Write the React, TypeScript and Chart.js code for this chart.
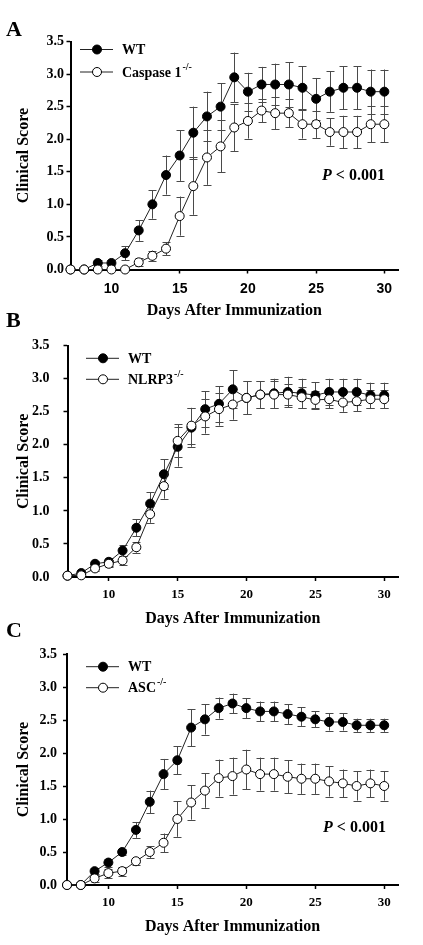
import { useEffect, useRef } from "react";
import { Chart, registerables } from "chart.js";

Chart.register(...registerables);

// ---------- data ----------
const days = [7, 8, 9, 10, 11, 12, 13, 14, 15, 16, 17, 18, 19, 20, 21, 22, 23, 24, 25, 26, 27, 28, 29, 30];
const xTickValues = [10, 15, 20, 25, 30];

const wtA = [0, 0, 0.1, 0.1, 0.25, 0.6, 1.0, 1.45, 1.75, 2.1, 2.35, 2.5, 2.95, 2.73, 2.84, 2.84, 2.84, 2.79, 2.62, 2.73, 2.79, 2.79, 2.73, 2.73];
const wtAErr = [0, 0, 0.05, 0.05, 0.11, 0.16, 0.22, 0.3, 0.39, 0.4, 0.38, 0.36, 0.38, 0.29, 0.27, 0.32, 0.34, 0.33, 0.32, 0.31, 0.33, 0.33, 0.34, 0.34];
const casp1 = [0, 0, 0, 0, 0, 0.11, 0.21, 0.32, 0.82, 1.28, 1.72, 1.89, 2.18, 2.28, 2.44, 2.4, 2.4, 2.23, 2.23, 2.11, 2.11, 2.11, 2.23, 2.23];
const casp1Err = [0, 0, 0, 0, 0, 0.06, 0.08, 0.1, 0.3, 0.44, 0.42, 0.4, 0.36, 0.27, 0.18, 0.25, 0.22, 0.22, 0.21, 0.21, 0.25, 0.25, 0.28, 0.28];

const wtB = [0.02, 0.06, 0.2, 0.23, 0.4, 0.745, 1.11, 1.555, 1.97, 2.26, 2.54, 2.62, 2.84, 2.71, 2.76, 2.78, 2.8, 2.78, 2.75, 2.8, 2.8, 2.8, 2.75, 2.75];
const wtBErr = [0, 0.02, 0.04, 0.06, 0.08, 0.13, 0.17, 0.23, 0.3, 0.29, 0.27, 0.27, 0.29, 0.25, 0.2, 0.22, 0.23, 0.22, 0.2, 0.2, 0.2, 0.2, 0.19, 0.19];
const nlrp3 = [0.02, 0.025, 0.13, 0.2, 0.25, 0.45, 0.95, 1.375, 2.06, 2.29, 2.43, 2.54, 2.61, 2.71, 2.76, 2.76, 2.76, 2.72, 2.68, 2.69, 2.64, 2.66, 2.69, 2.69];
const nlrp3Err = [0, 0.02, 0.04, 0.05, 0.07, 0.08, 0.13, 0.19, 0.25, 0.27, 0.26, 0.25, 0.23, 0.25, 0.2, 0.2, 0.16, 0.16, 0.14, 0.14, 0.14, 0.15, 0.14, 0.14];

const wtC = [0, 0, 0.21, 0.34, 0.5, 0.835, 1.26, 1.68, 1.89, 2.385, 2.51, 2.68, 2.75, 2.68, 2.63, 2.63, 2.59, 2.55, 2.51, 2.47, 2.47, 2.42, 2.42, 2.42];
const wtCErr = [0, 0, 0.05, 0.06, 0.04, 0.12, 0.17, 0.23, 0.21, 0.28, 0.23, 0.16, 0.15, 0.15, 0.15, 0.15, 0.15, 0.14, 0.12, 0.13, 0.13, 0.1, 0.1, 0.1];
const asc = [0, 0, 0.1, 0.18, 0.21, 0.36, 0.5, 0.64, 1.0, 1.25, 1.43, 1.62, 1.65, 1.75, 1.68, 1.68, 1.64, 1.61, 1.61, 1.57, 1.54, 1.5, 1.54, 1.5];
const ascErr = [0, 0, 0.05, 0.07, 0.07, 0.05, 0.09, 0.14, 0.27, 0.26, 0.26, 0.28, 0.28, 0.3, 0.25, 0.25, 0.25, 0.23, 0.23, 0.23, 0.21, 0.22, 0.21, 0.22];

const wtLabel = "WT";
const koLabels = ["Caspase 1", "NLRP3", "ASC"];
const koSup = "-/-";
const panelLetters = ["A", "B", "C"];
const pLabel = "P";
const pRest = " < 0.001";
const xTitle = "Days After Immunization";
const yTitle = "Clinical Score";

const SERIF = '"Liberation Serif", "Times New Roman", serif';
const SANS = '"Liberation Sans", Arial, sans-serif';

type PanelCfg = {
  letter: string;
  letterY: number;
  top: number;
  height: number;
  padTop: number;
  yAxisWidth: number;
  xAxisHeight: number;
  yTickPad: number;
  xTickPad: number;
  xTickFont: any;
  xTitlePadBottom: number;
  koLabel: string;
  wt: number[];
  wtErr: number[];
  ko: number[];
  koErr: number[];
  legend: { x0: number; x1: number; mx: number; tx: number; y1: number; y2: number };
  pText: { x: number; y: number } | null;
};

const panels: PanelCfg[] = [
  {
    letter: panelLetters[0], letterY: 30, top: 0, height: 325, padTop: 41.5, yAxisWidth: 70.5,
    xAxisHeight: 55.5, yTickPad: 2.5, xTickPad: 7, xTickFont: { family: SANS, size: 14, weight: "bold" },
    xTitlePadBottom: 4.4, koLabel: koLabels[0], wt: wtA, wtErr: wtAErr, ko: casp1, koErr: casp1Err,
    legend: { x0: 80, x1: 113, mx: 97, tx: 122, y1: 49.5, y2: 72 },
    pText: { x: 322, y: 176 },
  },
  {
    letter: panelLetters[1], letterY: 11.5, top: 310, height: 320, padTop: 35.7, yAxisWidth: 67.5,
    xAxisHeight: 53, yTickPad: 14, xTickPad: 6.2, xTickFont: { family: SERIF, size: 13, weight: "bold" },
    xTitlePadBottom: 1.4, koLabel: koLabels[1], wt: wtB, wtErr: wtBErr, ko: nlrp3, koErr: nlrp3Err,
    legend: { x0: 86, x1: 119, mx: 103, tx: 128, y1: 48.3, y2: 69.3 },
    pText: null,
  },
  {
    letter: panelLetters[2], letterY: 11.5, top: 620, height: 325, padTop: 34, yAxisWidth: 67,
    xAxisHeight: 60, yTickPad: 6, xTickPad: 5.7, xTickFont: { family: SERIF, size: 13, weight: "bold" },
    xTitlePadBottom: 8.4, koLabel: koLabels[2], wt: wtC, wtErr: wtCErr, ko: asc, koErr: ascErr,
    legend: { x0: 86, x1: 119, mx: 103, tx: 128, y1: 46.7, y2: 67.7 },
    pText: { x: 323, y: 208 },
  },
];

function Panel({ cfg }: { cfg: PanelCfg }) {
  const ref = useRef<HTMLCanvasElement | null>(null);

  useEffect(() => {
    if (!ref.current) return;
    const errs = [cfg.koErr, cfg.wtErr];

    const overlay = {
      id: "overlay",
      beforeDatasetsDraw(chart: any) {
        const ctx = chart.ctx;
        const ys = chart.scales.y;
        ctx.save();
        ctx.strokeStyle = "#4a4a4a";
        ctx.lineWidth = 1;
        [0, 1].forEach((di) => {
          const meta = chart.getDatasetMeta(di);
          const vals = chart.data.datasets[di].data;
          meta.data.forEach((pt: any, j: number) => {
            const e = errs[di][j];
            if (!e) return;
            const v = vals[j].y;
            const yt = ys.getPixelForValue(v + e);
            const yb = ys.getPixelForValue(Math.max(0, v - e));
            const x = Math.round(pt.x) + 0.5;
            ctx.beginPath();
            ctx.moveTo(x, yt);
            ctx.lineTo(x, yb);
            ctx.moveTo(x - 4, Math.round(yt) + 0.5);
            ctx.lineTo(x + 4, Math.round(yt) + 0.5);
            ctx.moveTo(x - 4, Math.round(yb) + 0.5);
            ctx.lineTo(x + 4, Math.round(yb) + 0.5);
            ctx.stroke();
          });
        });
        ctx.restore();
      },
      afterDraw(chart: any) {
        const ctx = chart.ctx;
        ctx.save();
        // panel letter
        ctx.fillStyle = "#000";
        ctx.font = `bold 22px ${SERIF}`;
        ctx.textBaseline = "middle";
        ctx.textAlign = "left";
        ctx.fillText(cfg.letter, 6, cfg.letterY);

        // legend
        const L = cfg.legend;
        const rows = [
          { y: L.y1, fill: "#000", label: wtLabel, sup: "" },
          { y: L.y2, fill: "#fff", label: cfg.koLabel, sup: koSup },
        ];
        rows.forEach((r) => {
          ctx.strokeStyle = "#222";
          ctx.lineWidth = 1;
          ctx.beginPath();
          ctx.moveTo(L.x0, r.y);
          ctx.lineTo(L.x1, r.y);
          ctx.stroke();
          ctx.beginPath();
          ctx.arc(L.mx, r.y, 4.5, 0, Math.PI * 2);
          ctx.fillStyle = r.fill;
          ctx.fill();
          ctx.strokeStyle = "#000";
          ctx.stroke();
          ctx.fillStyle = "#000";
          ctx.font = `bold 14px ${SERIF}`;
          ctx.textBaseline = "middle";
          ctx.fillText(r.label, L.tx, r.y + 1);
          if (r.sup) {
            const w = ctx.measureText(r.label).width;
            ctx.font = `bold 10px ${SERIF}`;
            ctx.fillText(r.sup, L.tx + w + 1, r.y - 5);
          }
        });

        // P value
        if (cfg.pText) {
          ctx.fillStyle = "#000";
          ctx.textBaseline = "middle";
          ctx.font = `italic bold 16px ${SERIF}`;
          ctx.fillText(pLabel, cfg.pText.x, cfg.pText.y);
          const w = ctx.measureText(pLabel).width;
          ctx.font = `bold 16px ${SERIF}`;
          ctx.fillText(pRest, cfg.pText.x + w, cfg.pText.y);
        }
        ctx.restore();
      },
    };

    const gridCommon = {
      display: true,
      drawOnChartArea: false,
      drawTicks: true,
      tickLength: 4,
      tickWidth: 1.5,
      tickColor: "#000",
    };
    const borderCommon = { display: true, color: "#000", width: 2 };

    const chart = new Chart(ref.current, {
      type: "line",
      data: {
        datasets: [
          {
            label: cfg.koLabel,
            data: days.map((d, i) => ({ x: d, y: cfg.ko[i] })),
            borderColor: "#222",
            borderWidth: 1,
            pointRadius: 4.5,
            pointBorderWidth: 1,
            pointBorderColor: "#000",
            pointBackgroundColor: "#fff",
            clip: false as any,
            order: 0,
          },
          {
            label: wtLabel,
            data: days.map((d, i) => ({ x: d, y: cfg.wt[i] })),
            borderColor: "#222",
            borderWidth: 1,
            pointRadius: 4.5,
            pointBorderWidth: 1,
            pointBorderColor: "#000",
            pointBackgroundColor: "#000",
            clip: false as any,
            order: 1,
          },
        ],
      },
      options: {
        responsive: false,
        animation: false,
        layout: { padding: { top: cfg.padTop, right: 25, bottom: 0, left: 0 } },
        plugins: {
          legend: { display: false },
          tooltip: { enabled: false },
        },
        scales: {
          x: {
            type: "linear",
            min: 7,
            max: 31,
            afterBuildTicks: (s: any) => {
              s.ticks = xTickValues.map((v) => ({ value: v }));
            },
            afterFit: (s: any) => {
              s.height = cfg.xAxisHeight;
            },
            grid: gridCommon,
            border: borderCommon,
            ticks: {
              color: "#000",
              font: cfg.xTickFont,
              padding: cfg.xTickPad,
              maxRotation: 0,
              autoSkip: false,
            },
            title: {
              display: true,
              text: xTitle,
              color: "#000",
              font: { family: SERIF, size: 16, weight: "bold" },
              padding: { top: 0, bottom: cfg.xTitlePadBottom },
            },
          },
          y: {
            min: 0,
            max: 3.5,
            afterFit: (s: any) => {
              s.width = cfg.yAxisWidth;
            },
            grid: gridCommon,
            border: borderCommon,
            ticks: {
              stepSize: 0.5,
              color: "#000",
              font: { family: SERIF, size: 14, weight: "bold" },
              padding: cfg.yTickPad,
              callback: (v: any) => Number(v).toFixed(1),
            },
            title: {
              display: true,
              text: yTitle,
              color: "#000",
              font: { family: SERIF, size: 16, weight: "bold" },
              padding: { top: 14.4, bottom: 0 },
            },
          },
        },
      } as any,
      plugins: [overlay],
    });
    return () => chart.destroy();
  }, [cfg]);

  return (
    <div style={{ position: "absolute", left: 0, top: cfg.top, width: 423, height: cfg.height }}>
      <canvas
        ref={ref}
        width={423}
        height={cfg.height}
        style={{ display: "block", width: 423, height: cfg.height }}
      />
    </div>
  );
}

export default function App() {
  return (
    <div style={{ position: "absolute", left: 0, top: 0, width: 423, height: 945, background: "#fff" }}>
      {panels.map((p) => (
        <Panel key={p.letter} cfg={p} />
      ))}
    </div>
  );
}
